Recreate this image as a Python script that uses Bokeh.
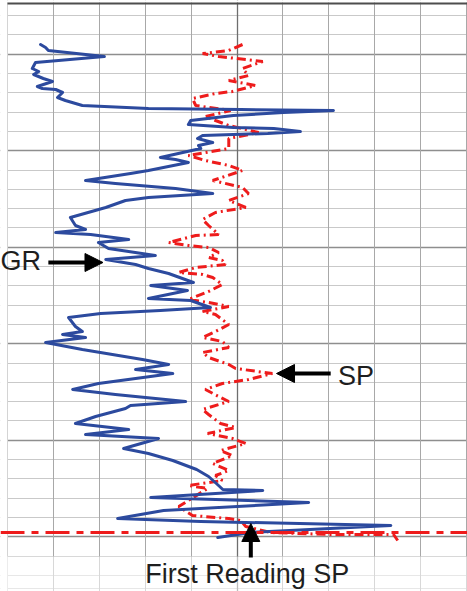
from bokeh.plotting import figure
from bokeh.models import (Range1d, Grid, FixedTicker, Span, Arrow, NormalHead,
                          Label, BoxAnnotation)
from bokeh.embed import file_html
from bokeh.resources import INLINE

# ---- data (depth increases downward) ----
gr_depth = [44, 47, 50, 56, 62, 68, 71, 74, 78, 81, 86, 88, 89, 92, 97, 100, 105, 108, 109, 110,
            112, 115, 120, 124, 127, 128, 131, 133, 135, 138, 142, 145, 148, 157, 159, 162, 170, 173, 180, 183,
            188, 193, 197, 200, 207, 217, 225, 229, 232, 234, 239, 242, 248, 255, 259, 264, 268, 273, 282, 285,
            290, 298, 300, 307, 310, 313, 317, 326, 331, 334, 337, 342, 349, 359, 364, 369, 373, 383, 389, 394,
            401, 405, 408, 416, 423, 429, 434, 438, 448, 453, 460, 469, 476, 483, 489, 490, 497, 502, 510, 518,
            521, 525, 532, 537]
gr_value = [7.2, 8.3, 8.9, 21.1, 6.1, 5.4, 6.8, 5.7, 7.8, 9.8, 6.5, 7.6, 10.5, 12.0, 10.9, 12.6, 16.3, 30.7, 50.8, 71.0,
            60.1, 49.2, 39.9, 39.4, 49.2, 58.0, 63.8, 56.7, 42.5, 41.4, 44.7, 41.6, 42.1, 33.3, 36.6, 39.4, 30.7, 26.8, 17.0, 23.5,
            36.6, 44.7, 30.7, 25.7, 21.4, 13.7, 14.8, 17.0, 10.5, 18.1, 26.4, 19.8, 22.0, 32.2, 21.4, 27.9, 30.7, 35.1, 40.5, 31.2,
            39.2, 30.7, 39.9, 44.2, 33.3, 20.3, 13.3, 14.8, 16.3, 12.0, 17.0, 8.3, 16.3, 29.4, 35.1, 27.9, 36.0, 19.8, 14.2, 23.5,
            38.8, 26.8, 25.7, 19.2, 14.8, 26.4, 17.0, 32.9, 25.3, 30.7, 36.0, 41.2, 43.8, 45.5, 46.9, 55.6, 31.2, 65.6, 34.0, 24.0,
            42.1, 83.5, 53.0, 45.8]

sp_depth = [44, 50, 53, 56, 61, 68, 75, 80, 85, 91, 93, 98, 105, 110, 116, 120, 125, 132, 138, 148,
            155, 160, 165, 170, 180, 187, 193, 200, 207, 212, 219, 225, 234, 235, 242, 245, 247, 252, 257, 260,
            264, 267, 272, 274, 277, 284, 291, 299, 302, 306, 311, 314, 324, 331, 337, 341, 347, 352, 357, 364,
            368, 373, 379, 383, 389, 396, 401, 409, 414, 423, 427, 433, 438, 443, 450, 455, 463, 470, 475, 480,
            485, 488, 506, 515, 518, 520, 526, 532, 534, 534, 540]
sp_value = [51.2, 48.2, 42.5, 46.0, 55.6, 51.2, 52.5, 48.2, 54.0, 49.0, 45.3, 40.3, 41.0, 48.6, 43.1, 45.3, 48.2, 54.7, 48.2, 48.2,
            39.4, 43.1, 48.2, 51.2, 44.7, 51.2, 52.5, 48.2, 51.9, 45.3, 42.5, 43.8, 46.0, 41.0, 35.1, 39.4, 43.8, 46.0, 43.8, 46.8,
            47.5, 41.0, 37.3, 42.5, 44.7, 46.8, 43.8, 39.4, 43.8, 48.2, 42.5, 45.3, 48.2, 45.3, 42.5, 46.8, 48.2, 42.5, 43.8, 48.2,
            49.7, 57.7, 52.5, 46.8, 43.1, 46.0, 48.2, 42.5, 43.8, 46.4, 49.7, 43.6, 49.0, 51.9, 46.4, 49.0, 44.7, 48.2, 45.3, 46.8,
            39.4, 43.6, 37.3, 40.3, 48.2, 50.8, 51.9, 57.3, 70.4, 84.1, 85.0]

first_reading_sp_depth = 532
vertical_grid = [0, 10, 20, 30, 40, 50, 60, 70, 80, 90, 100]

# ---- figure ----
p = figure(width=467, height=591, x_range=Range1d(-1.525, 100.2), y_range=Range1d(591, 0),
           x_axis_type=None, y_axis_type=None, toolbar_location=None, output_backend="svg",
           min_border=0, outline_line_color=None)
p.background_fill_color = "white"
p.border_fill_color = "white"

row_lines = [15.1 + 19.3 * k for k in range(30)] + [588]
dark_rows = [15.1 + 19.3 * k for k in range(2, 30, 5)]

p.add_layout(Grid(dimension=1, ticker=FixedTicker(ticks=row_lines),
                  grid_line_color="#c9c9c9", grid_line_width=1))
p.add_layout(Grid(dimension=1, ticker=FixedTicker(ticks=dark_rows),
                  grid_line_color="#8e8e8e", grid_line_width=1.3))
p.add_layout(Grid(dimension=0, ticker=FixedTicker(ticks=vertical_grid),
                  grid_line_color="#a8a8a8", grid_line_width=1))
p.add_layout(Grid(dimension=0, ticker=FixedTicker(ticks=[50]),
                  grid_line_color="#6e6e6e", grid_line_width=1.3))

# white margin left of the track and top border
p.add_layout(BoxAnnotation(right=0, fill_color="white", fill_alpha=1, line_color=None, level="underlay"))
p.add_layout(BoxAnnotation(top=0, bottom=2, fill_color="white", fill_alpha=1, line_color=None, level="underlay"))
p.add_layout(BoxAnnotation(left=0, top=2, bottom=4, fill_color="#4d4d4d", fill_alpha=1, line_color=None))

# curves
p.line(sp_value, sp_depth, line_color="#ee1c1c", line_width=3, line_dash="9 4 2 4")
p.add_layout(Span(location=first_reading_sp_depth, dimension="width", line_color="#ee1c1c",
                  line_width=3, line_dash="24 7 7 7"))
p.line(gr_value, gr_depth, line_color="#2c4a9e", line_width=3, line_join="round", line_cap="round")

# faded bottom area
p.add_layout(BoxAnnotation(top=556, bottom=591, fill_color="white", fill_alpha=0.55, line_color=None))

# arrows
head = dict(size=18, fill_color="black", line_color="black")
p.add_layout(Arrow(end=NormalHead(**head), x_start=8.9, y_start=262, x_end=20.8, y_end=262,
                   line_width=4, line_color="black"))
p.add_layout(Arrow(end=NormalHead(**head), x_start=70.4, y_start=373, x_end=58.6, y_end=373,
                   line_width=4, line_color="black"))
p.add_layout(Arrow(end=NormalHead(**head), x_start=53.0, y_start=557, x_end=53.0, y_end=523,
                   line_width=4, line_color="black"))

lab = dict(text_font="Liberation Sans", text_font_size="27px", text_color="#1e1e1e",
           text_baseline="alphabetic", text_align="left")
p.add_layout(Label(x=-1.5, y=260, text="GR", **lab))
p.add_layout(Label(x=72.0, y=375, text="SP", **lab))
p.add_layout(Label(x=30.0, y=573, text="First Reading SP", **lab))

open("out.html", "w").write(file_html(p, INLINE))
